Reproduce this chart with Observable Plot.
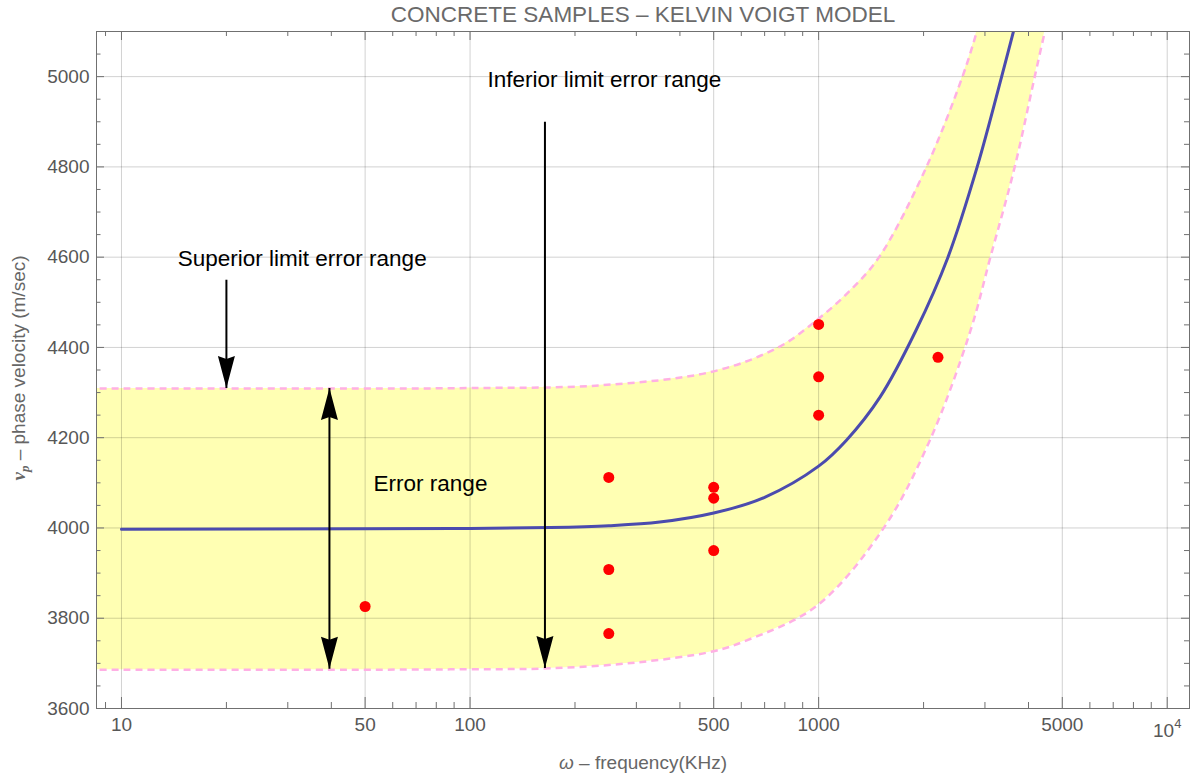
<!DOCTYPE html>
<html>
<head>
<meta charset="utf-8">
<script src="https://cdn.jsdelivr.net/npm/d3@7"></script>
<script src="https://cdn.jsdelivr.net/npm/@observablehq/plot@0.6"></script>
<style>
  html, body { margin: 0; padding: 0; background: #fff; }
  #chart svg { display: block; }
</style>
</head>
<body>
<div id="chart"></div>
<script>
// Kelvin–Voigt model: phase velocity of concrete samples versus frequency
const title = "CONCRETE SAMPLES – KELVIN VOIGT MODEL";
const xLabel = "ω – frequency(KHz)";
const yLabel = "vp – phase velocity (m/sec)";

// model curve v_p(ω), kHz → m/s
const curveFreq = [10, 50, 100, 170, 250, 350, 500, 700, 1000, 1200, 1500, 1900, 2350, 2850, 3350, 3650];
const curveV    = [3997, 3998, 3999, 4001, 4005, 4013, 4033, 4068, 4137, 4194, 4290, 4437, 4600, 4800, 5000, 5110];

// error band: superior and inferior limits
const upperFreq = [8, 50, 100, 236, 500, 774, 986, 1220, 1491, 2039, 2586, 2836, 3300, 3800, 4300];
const upperV    = [4309, 4309, 4310, 4316, 4347, 4402, 4460, 4523, 4600, 4800, 5000, 5097, 5280, 5470, 5650];
const lowerFreq = [8, 50, 100, 170, 300, 500, 622, 986, 1531, 2084, 2726, 3110, 3652, 4168, 4700];
const lowerV    = [3686, 3686, 3687, 3689, 3702, 3727, 3751, 3827, 3998, 4194, 4437, 4600, 4800, 5000, 5180];

// measured samples
const sampleFreq = [50, 250, 250, 250, 500, 500, 500, 1000, 1000, 1000, 2200];
const sampleV    = [3826, 4112, 3908, 3766, 4090, 4066, 3950, 4451, 4335, 4250, 4378];

// annotation arrows (vertical): frequency, start, tip
const arrowFreq = [164, 20, 39.5];
const arrowFrom = [4900, 4550, 4310];
const arrowTo   = [3690, 4310, 3688];
// arrowheads: frequency, tip velocity, direction
const headFreq = [164, 20, 39.5, 39.5];
const headV    = [3690, 4310, 3688, 4310];
const headDir  = ["down", "down", "down", "up"];

// annotation texts
const noteText = ["Inferior limit error range", "Superior limit error range", "Error range"];
const noteFreq = [243, 33, 77];
const noteV    = [4993, 4597, 4098];

// axes
const xTickValues = [10, 50, 100, 500, 1000, 5000, 10000];
const xTickLabels = ["10", "50", "100", "500", "1000", "5000", "10⁴"];
const xMinorTicks = [9, 20, 30, 40, 60, 70, 80, 90, 200, 300, 400, 600, 700, 800, 900,
                     2000, 3000, 4000, 6000, 7000, 8000, 9000];
const yTickValues = [3600, 3800, 4000, 4200, 4400, 4600, 4800, 5000];
const yMinorTicks = [3650, 3700, 3750, 3850, 3900, 3950, 4050, 4100, 4150, 4250, 4300, 4350,
                     4450, 4500, 4550, 4650, 4700, 4750, 4850, 4900, 4950, 5050];

const W = 1193, H = 778;
const margin = {top: 31, right: 4, bottom: 70, left: 96};
const innerW = W - margin.left - margin.right;
const innerH = H - margin.top - margin.bottom;

const axisColor = "#707070";
const labelColor = "#575757";
const fontFamily = "Liberation Sans, Arial, sans-serif";

const curve = curveFreq.map((f, i) => ({f, v: curveV[i]}));
const upper = upperFreq.map((f, i) => ({f, v: upperV[i]}));
const lower = lowerFreq.map((f, i) => ({f, v: lowerV[i]}));
const samples = sampleFreq.map((f, i) => ({f, v: sampleV[i]}));
const arrows = arrowFreq.map((f, i) => ({f, v1: arrowFrom[i], v2: arrowTo[i]}));
const heads = headFreq.map((f, i) => ({f, v: headV[i], dir: headDir[i]}));
const notes = noteText.map((t, i) => ({t, f: noteFreq[i], v: noteV[i]}));
const band = d3.range(upper.length);

// filled arrowhead with a slightly notched back; the tip sits at (0, -l)
const arrowHead = {
  draw(context, l, r) {
    context.moveTo(0, -l);
    context.lineTo(-r, 0);
    context.lineTo(0, -3);
    context.lineTo(r, 0);
    context.closePath();
  }
};

const chart = Plot.plot({
  width: W,
  height: H,
  marginTop: margin.top,
  marginRight: margin.right,
  marginBottom: margin.bottom,
  marginLeft: margin.left,
  style: {fontFamily, background: "#fff", overflow: "visible"},
  x: {type: "log", domain: [8.479, 11586], axis: null},
  y: {domain: [3600, 5100], axis: null},
  marks: [
    // error band
    Plot.area(band, {
      x1: i => lower[i].f, y1: i => lower[i].v,
      x2: i => upper[i].f, y2: i => upper[i].v,
      fill: "#ffffb3", curve: "catmull-rom", clip: true
    }),
    // grid
    Plot.ruleX(xTickValues, {stroke: "#000", strokeOpacity: 0.18}),
    Plot.ruleY(yTickValues, {stroke: "#000", strokeOpacity: 0.18}),
    // band limits
    Plot.line(upper, {x: "f", y: "v", stroke: "#ffb0e4", strokeWidth: 2.5, strokeDasharray: "7,5",
                      strokeLinecap: "butt", curve: "catmull-rom", clip: true}),
    Plot.line(lower, {x: "f", y: "v", stroke: "#ffb0e4", strokeWidth: 2.5, strokeDasharray: "7,5",
                      strokeLinecap: "butt", curve: "catmull-rom", clip: true}),
    // model
    Plot.line(curve, {x: "f", y: "v", stroke: "#4b4bae", strokeWidth: 3, curve: "catmull-rom", clip: true}),
    // samples
    Plot.dot(samples, {x: "f", y: "v", r: 5.5, fill: "#ff0000", stroke: "none"}),
    // arrows
    Plot.link(arrows, {x1: "f", y1: "v1", x2: "f", y2: "v2", stroke: "#000", strokeWidth: 2}),
    Plot.vector(heads, {
      x: "f", y: "v", length: 32, r: 8.5, anchor: "end",
      rotate: d => d.dir === "down" ? 180 : 0,
      shape: arrowHead, fill: "#000", stroke: "none"
    }),
    // annotations
    Plot.text(notes, {x: "f", y: "v", text: "t", fontSize: 22.5, fill: "#000"}),
    // frame and ticks (pointing inward)
    Plot.frame({stroke: axisColor}),
    Plot.tickX(xTickValues, {x: d => d, stroke: axisColor, insetTop: innerH - 11}),
    Plot.tickX(xMinorTicks, {x: d => d, stroke: axisColor, insetTop: innerH - 6}),
    Plot.tickX(xTickValues, {x: d => d, stroke: axisColor, insetBottom: innerH - 9}),
    Plot.tickX(xMinorTicks, {x: d => d, stroke: axisColor, insetBottom: innerH - 5}),
    Plot.tickY(yTickValues, {y: d => d, stroke: axisColor, insetRight: innerW - 8}),
    Plot.tickY(yMinorTicks, {y: d => d, stroke: axisColor, insetRight: innerW - 4.5}),
    Plot.tickY(yTickValues, {y: d => d, stroke: axisColor, insetLeft: innerW - 8}),
    Plot.tickY(yMinorTicks, {y: d => d, stroke: axisColor, insetLeft: innerW - 5}),
    // tick labels
    Plot.text(xTickValues, {x: d => d, text: (d, i) => xTickLabels[i], frameAnchor: "bottom",
                            lineAnchor: "middle", dy: 16, fontSize: 19, fill: labelColor}),
    Plot.text(yTickValues, {y: d => d, text: d => String(d), frameAnchor: "left", dx: -7, textAnchor: "end",
                            fontSize: 19, fill: labelColor}),
    // axis labels and title
    Plot.text([xLabel], {text: d => d, frameAnchor: "bottom", lineAnchor: "middle", dy: 54,
                         fontSize: 19, fill: "#666"}),
    Plot.text([yLabel], {text: d => d, frameAnchor: "left", textAnchor: "middle", dx: -78, dy: -2,
                         rotate: -90, fontSize: 19, fill: "#666"}),
    Plot.text([title], {text: d => d, frameAnchor: "top", lineAnchor: "middle", dy: -17,
                        fontSize: 22.5, fill: "#6a6a6a"})
  ]
});

document.getElementById("chart").append(chart);

// typographic details: 10⁴ superscript, italic ω, v with subscript p
d3.select(chart).selectAll("text").each(function () {
  const content = this.textContent;
  if (content === "10⁴") {
    const t = d3.select(this).text(null);
    t.append("tspan").attr("dy", 6).text("10");
    t.append("tspan").attr("dy", -9).attr("font-size", 13).text("4");
  } else if (content === xLabel) {
    const t = d3.select(this).text(null);
    t.append("tspan").attr("font-style", "italic").text("ω");
    t.append("tspan").text(" – frequency(KHz)");
  } else if (content === yLabel) {
    const t = d3.select(this).text(null);
    t.append("tspan").attr("font-family", "Liberation Serif, serif").attr("font-weight", "bold")
      .attr("font-style", "italic").text("v");
    t.append("tspan").attr("font-family", "Liberation Serif, serif").attr("font-weight", "bold")
      .attr("font-style", "italic").attr("font-size", 13).attr("dy", 4).text("p");
    t.append("tspan").attr("dy", -4).text(" – phase velocity (m/sec)");
  }
});
</script>
</body>
</html>
